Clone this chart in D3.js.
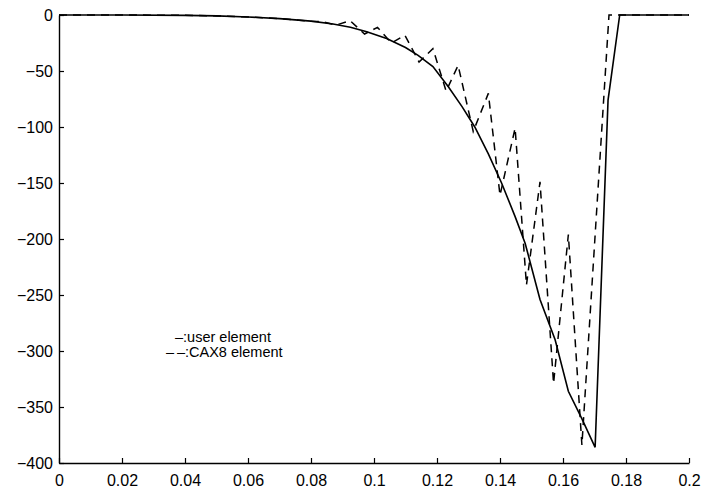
<!DOCTYPE html>
<html>
<head>
<meta charset="utf-8">
<script src="https://cdn.jsdelivr.net/npm/d3@7"></script>
<style>
  html, body { margin: 0; padding: 0; background: #fff; }
  svg { display: block; }
  text { font-family: "Liberation Sans", Arial, Helvetica, sans-serif; fill: #000; }
</style>
</head>
<body>
<svg id="chart" width="707" height="496"></svg>
<script>
// ---- data ----
const xTicks = [0, 0.02, 0.04, 0.06, 0.08, 0.1, 0.12, 0.14, 0.16, 0.18, 0.2];
const xTickLabels = ["0", "0.02", "0.04", "0.06", "0.08", "0.1", "0.12", "0.14", "0.16", "0.18", "0.2"];
const yTicks = [0, -50, -100, -150, -200, -250, -300, -350, -400];
const yTickLabels = ["0", "-50", "-100", "-150", "-200", "-250", "-300", "-350", "-400"];

// user element (solid)
const userX = [0, 0.02, 0.04, 0.05, 0.06, 0.07, 0.08, 0.087, 0.0925, 0.0977, 0.104, 0.11, 0.114, 0.1187, 0.1236, 0.128, 0.132, 0.1363, 0.1405, 0.1448, 0.148, 0.1527, 0.1575, 0.1617, 0.1659, 0.1702, 0.1743, 0.178, 0.2];
const userY = [0, 0, -0.3, -0.8, -1.8, -3.2, -5.5, -8, -11, -15, -21, -29, -36, -46, -64, -82, -100, -124, -150, -180, -204, -254, -290, -336, -360, -386, -76, 0, 0];

// CAX8 element (dashed)
const caxX = [0, 0.02, 0.04, 0.05, 0.06, 0.07, 0.08, 0.0837, 0.088, 0.0924, 0.097, 0.1011, 0.1055, 0.1098, 0.1143, 0.1187, 0.1229, 0.1267, 0.1315, 0.1363, 0.140, 0.1448, 0.1484, 0.1527, 0.157, 0.1617, 0.166, 0.1746, 0.2];
const caxY = [0, 0, -0.3, -0.8, -1.8, -3.2, -5.5, -6, -9, -5, -17, -11, -25, -18, -42, -30, -68, -45, -104, -70, -161, -101, -241, -149, -329, -196, -384, 0, 0];

const legendLines = ["\u2013:user element", "\u2013\u2009\u2013:CAX8 element"];

// ---- layout ----
const svg = d3.select("#chart");
const x = d3.scaleLinear().domain([0, 0.2]).range([59, 689]);
const y = d3.scaleLinear().domain([-400, 0]).range([463, 15]);

const line = d3.line().x(d => x(d[0])).y(d => y(d[1]));
const userData = userX.map((v, i) => [v, userY[i]]);
const caxData = caxX.map((v, i) => [v, caxY[i]]);

// curves
svg.append("path").datum(caxData).attr("d", line)
  .attr("fill", "none").attr("stroke", "#000").attr("stroke-width", 1.5)
  .attr("stroke-dasharray", "8,6");
svg.append("path").datum(userData).attr("d", line)
  .attr("fill", "none").attr("stroke", "#000").attr("stroke-width", 1.6);

// axes
const xAxis = d3.axisBottom(x).tickValues(xTicks)
  .tickFormat((d, i) => xTickLabels[i]).tickSizeInner(-5).tickSizeOuter(0).tickPadding(12);
const gx = svg.append("g").attr("transform", "translate(0,463)").call(xAxis);
gx.select(".domain").attr("stroke", "#000").attr("stroke-width", 1.4);
gx.selectAll(".tick line").attr("stroke", "#000").attr("stroke-width", 1.2);
gx.selectAll("text").attr("font-size", 16).attr("fill", "#000");

const yAxis = d3.axisLeft(y).tickValues(yTicks)
  .tickFormat((d, i) => yTickLabels[i].replace("-", "\u2212")).tickSizeInner(-5).tickSizeOuter(0).tickPadding(6);
const gy = svg.append("g").attr("transform", "translate(59,0)").call(yAxis);
gy.select(".domain").attr("stroke", "#000").attr("stroke-width", 1.4);
gy.selectAll(".tick line").attr("stroke", "#000").attr("stroke-width", 1.2);
gy.selectAll("text").attr("font-size", 16).attr("fill", "#000");

// legend text
svg.append("text").attr("x", 175).attr("y", 342).attr("font-size", 14.5).text(legendLines[0]);
svg.append("text").attr("x", 166).attr("y", 357).attr("font-size", 14.5).text(legendLines[1]);
</script>
</body>
</html>
